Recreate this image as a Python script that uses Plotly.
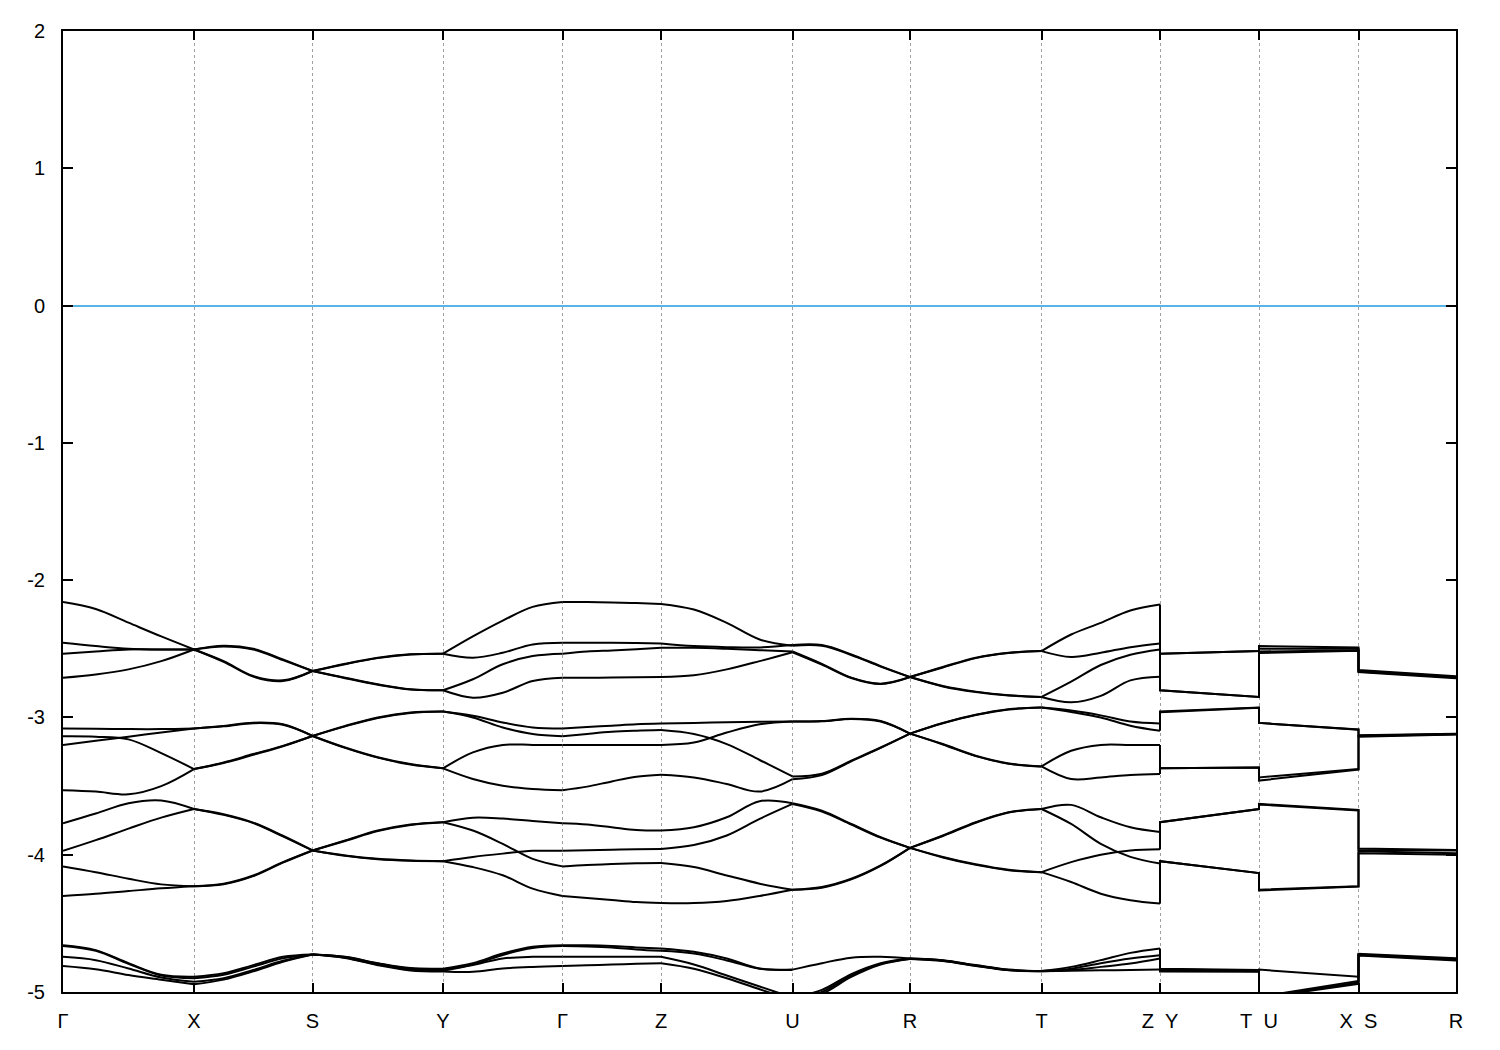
import plotly.graph_objects as go

# High-symmetry points along the k-path
LABELS = ["Γ", "X", "S", "Y", "Γ", "Z", "U", "R", "T",
          "Z\u00a0\u00a0Y", "T\u00a0\u00a0U", "X\u00a0\u00a0S", "R"]
KPTS = [0, 131, 249.5, 380, 499.5, 598, 729.5, 847, 978.5, 1097, 1196, 1295.5, 1393]
FRAC = [0, 0.25, 0.5, 0.75, 1]
Y_TICKS = [-5, -4, -3, -2, -1, 0, 1, 2]
Y_TEXT = ["-5", "-4", "-3", "-2", "-1", "0", "1", "2"]

# Band energies (eV) sampled at FRAC positions of each continuous segment
GX = [
    [-2.16, -2.21, -2.31, -2.41, -2.505],
    [-2.456, -2.48, -2.50, -2.505, -2.505],
    [-2.536, -2.52, -2.505, -2.505, -2.505],
    [-2.711, -2.687, -2.65, -2.59, -2.505],
    [-3.081, -3.083, -3.085, -3.085, -3.08],
    [-3.20, -3.17, -3.14, -3.11, -3.08],
    [-3.137, -3.14, -3.16, -3.26, -3.376],
    [-3.53, -3.54, -3.56, -3.50, -3.376],
    [-3.771, -3.70, -3.625, -3.605, -3.667],
    [-3.972, -3.894, -3.81, -3.73, -3.667],
    [-4.085, -4.127, -4.175, -4.216, -4.23],
    [-4.30, -4.285, -4.265, -4.245, -4.23],
    [-4.659, -4.695, -4.79, -4.875, -4.889],
    [-4.665, -4.70, -4.795, -4.88, -4.90],
    [-4.744, -4.768, -4.829, -4.894, -4.925],
    [-4.81, -4.834, -4.876, -4.91, -4.944],
]
XS = [
    [-2.505, -2.478, -2.50, -2.577, -2.662],
    [-2.505, -2.483, -2.505, -2.583, -2.662],
    [-2.505, -2.59, -2.698, -2.73, -2.662],
    [-2.505, -2.595, -2.703, -2.735, -2.662],
    [-3.08, -3.062, -3.038, -3.05, -3.135],
    [-3.08, -3.065, -3.042, -3.054, -3.135],
    [-3.376, -3.328, -3.267, -3.207, -3.135],
    [-3.376, -3.332, -3.272, -3.21, -3.135],
    [-3.667, -3.705, -3.766, -3.862, -3.969],
    [-3.667, -3.71, -3.77, -3.866, -3.969],
    [-4.23, -4.211, -4.151, -4.054, -3.969],
    [-4.23, -4.215, -4.156, -4.058, -3.969],
    [-4.889, -4.864, -4.804, -4.744, -4.727],
    [-4.90, -4.875, -4.815, -4.755, -4.727],
    [-4.925, -4.90, -4.84, -4.773, -4.727],
    [-4.944, -4.91, -4.85, -4.78, -4.727],
]
SY = [
    [-2.662, -2.609, -2.565, -2.54, -2.536],
    [-2.662, -2.612, -2.568, -2.542, -2.536],
    [-2.662, -2.711, -2.759, -2.795, -2.802],
    [-2.662, -2.714, -2.762, -2.797, -2.802],
    [-3.135, -3.062, -3.0, -2.964, -2.957],
    [-3.135, -3.065, -3.004, -2.967, -2.957],
    [-3.135, -3.219, -3.29, -3.34, -3.371],
    [-3.135, -3.222, -3.293, -3.343, -3.371],
    [-3.969, -3.896, -3.824, -3.78, -3.763],
    [-3.969, -3.90, -3.828, -3.783, -3.763],
    [-3.969, -4.005, -4.03, -4.042, -4.047],
    [-3.969, -4.008, -4.033, -4.044, -4.047],
    [-4.727, -4.744, -4.79, -4.826, -4.83],
    [-4.727, -4.745, -4.792, -4.83, -4.835],
    [-4.727, -4.75, -4.80, -4.838, -4.845],
    [-4.727, -4.752, -4.805, -4.843, -4.85],
]
YG = [
    [-2.536, -2.41, -2.295, -2.195, -2.159],
    [-2.536, -2.565, -2.529, -2.468, -2.456],
    [-2.802, -2.722, -2.613, -2.553, -2.536],
    [-2.802, -2.856, -2.82, -2.735, -2.711],
    [-2.957, -2.988, -3.037, -3.073, -3.081],
    [-2.957, -3.0, -3.073, -3.121, -3.137],
    [-3.371, -3.255, -3.20, -3.20, -3.20],
    [-3.371, -3.448, -3.497, -3.521, -3.53],
    [-3.763, -3.73, -3.737, -3.755, -3.771],
    [-3.763, -3.824, -3.921, -4.03, -4.085],
    [-4.047, -4.016, -3.992, -3.972, -3.972],
    [-4.047, -4.09, -4.15, -4.247, -4.30],
    [-4.83, -4.79, -4.72, -4.671, -4.659],
    [-4.835, -4.80, -4.73, -4.68, -4.665],
    [-4.845, -4.804, -4.756, -4.744, -4.744],
    [-4.85, -4.853, -4.829, -4.817, -4.81],
]
GZ = [
    [-2.159, -2.16, -2.162, -2.167, -2.173],
    [-2.456, -2.456, -2.456, -2.458, -2.461],
    [-2.536, -2.52, -2.512, -2.503, -2.493],
    [-2.711, -2.711, -2.71, -2.708, -2.705],
    [-3.081, -3.07, -3.06, -3.05, -3.045],
    [-3.137, -3.12, -3.105, -3.097, -3.092],
    [-3.20, -3.20, -3.20, -3.20, -3.20],
    [-3.53, -3.504, -3.466, -3.432, -3.417],
    [-3.771, -3.78, -3.80, -3.82, -3.824],
    [-3.972, -3.968, -3.964, -3.96, -3.958],
    [-4.085, -4.075, -4.068, -4.063, -4.061],
    [-4.30, -4.315, -4.33, -4.345, -4.352],
    [-4.659, -4.66, -4.665, -4.675, -4.683],
    [-4.665, -4.668, -4.675, -4.69, -4.70],
    [-4.744, -4.744, -4.744, -4.744, -4.744],
    [-4.81, -4.805, -4.80, -4.795, -4.79],
]
ZU = [
    [-2.173, -2.214, -2.311, -2.432, -2.478],
    [-2.461, -2.48, -2.488, -2.49, -2.473],
    [-2.493, -2.493, -2.50, -2.51, -2.52],
    [-2.705, -2.693, -2.65, -2.59, -2.525],
    [-3.045, -3.04, -3.035, -3.032, -3.03],
    [-3.092, -3.121, -3.194, -3.31, -3.43],
    [-3.20, -3.183, -3.11, -3.05, -3.03],
    [-3.417, -3.437, -3.485, -3.54, -3.45],
    [-3.824, -3.80, -3.727, -3.61, -3.625],
    [-3.958, -3.93, -3.86, -3.739, -3.63],
    [-4.061, -4.09, -4.151, -4.211, -4.255],
    [-4.352, -4.352, -4.337, -4.30, -4.255],
    [-4.683, -4.707, -4.756, -4.829, -4.837],
    [-4.70, -4.72, -4.77, -4.83, -4.84],
    [-4.744, -4.80, -4.88, -4.96, -5.04],
    [-4.79, -4.83, -4.90, -4.98, -5.06],
]
UR = [
    [-2.473, -2.473, -2.541, -2.626, -2.706],
    [-2.478, -2.478, -2.545, -2.63, -2.706],
    [-2.52, -2.61, -2.71, -2.754, -2.706],
    [-2.525, -2.615, -2.713, -2.757, -2.706],
    [-3.03, -3.026, -3.009, -3.026, -3.118],
    [-3.03, -3.028, -3.012, -3.03, -3.118],
    [-3.43, -3.41, -3.315, -3.219, -3.118],
    [-3.45, -3.42, -3.32, -3.222, -3.118],
    [-3.625, -3.679, -3.776, -3.873, -3.95],
    [-3.63, -3.685, -3.78, -3.876, -3.95],
    [-4.255, -4.235, -4.175, -4.078, -3.95],
    [-4.255, -4.24, -4.18, -4.082, -3.95],
    [-4.837, -4.79, -4.75, -4.744, -4.756],
    [-5.04, -4.985, -4.87, -4.79, -4.756],
    [-5.06, -5.0, -4.88, -4.795, -4.758],
    [-5.08, -5.015, -4.89, -4.80, -4.76],
]
RT = [
    [-2.706, -2.633, -2.565, -2.529, -2.517],
    [-2.706, -2.636, -2.568, -2.531, -2.517],
    [-2.706, -2.771, -2.812, -2.838, -2.851],
    [-2.706, -2.774, -2.815, -2.84, -2.851],
    [-3.118, -3.04, -2.98, -2.94, -2.928],
    [-3.118, -3.043, -2.983, -2.942, -2.928],
    [-3.118, -3.194, -3.279, -3.335, -3.357],
    [-3.118, -3.197, -3.282, -3.337, -3.357],
    [-3.95, -3.86, -3.763, -3.69, -3.667],
    [-3.95, -3.864, -3.767, -3.693, -3.667],
    [-3.95, -4.016, -4.07, -4.11, -4.127],
    [-3.95, -4.02, -4.074, -4.113, -4.127],
    [-4.756, -4.768, -4.804, -4.837, -4.847],
    [-4.756, -4.77, -4.806, -4.839, -4.847],
    [-4.758, -4.772, -4.808, -4.84, -4.848],
    [-4.76, -4.775, -4.81, -4.842, -4.849],
]
TZ = [
    [-2.517, -2.396, -2.311, -2.221, -2.178],
    [-2.517, -2.56, -2.529, -2.488, -2.461],
    [-2.851, -2.74, -2.618, -2.543, -2.505],
    [-2.851, -2.89, -2.843, -2.73, -2.703],
    [-2.928, -2.95, -2.985, -3.03, -3.044],
    [-2.928, -2.96, -3.00, -3.06, -3.097],
    [-3.357, -3.243, -3.20, -3.20, -3.20],
    [-3.357, -3.449, -3.437, -3.42, -3.412],
    [-3.667, -3.637, -3.727, -3.80, -3.834],
    [-3.667, -3.776, -3.921, -4.016, -4.064],
    [-4.127, -4.054, -4.0, -3.969, -3.96],
    [-4.127, -4.199, -4.284, -4.332, -4.356],
    [-4.847, -4.817, -4.768, -4.715, -4.683],
    [-4.847, -4.83, -4.79, -4.756, -4.732],
    [-4.848, -4.84, -4.817, -4.793, -4.756],
    [-4.849, -4.845, -4.842, -4.84, -4.837],
]

# Band energies at the end points of the straight (discontinuous) segments
E_Y = [-2.536, -2.536, -2.802, -2.802, -2.957, -2.962, -3.371, -3.371,
       -3.763, -3.763, -4.047, -4.047, -4.83, -4.835, -4.84, -4.85]
E_T = [-2.517, -2.517, -2.851, -2.851, -2.928, -2.93, -3.364, -3.364,
       -3.667, -3.667, -4.134, -4.134, -4.84, -4.845, -4.848, -4.852]
E_U = [-2.48, -2.50, -2.52, -2.53, -3.04, -3.04, -3.437, -3.46,
       -3.63, -3.635, -4.255, -4.26, -4.837, -5.035, -5.04, -5.045]
E_X = [-2.49, -2.50, -2.51, -2.515, -3.088, -3.09, -3.376, -3.38,
       -3.674, -3.678, -4.23, -4.232, -4.889, -4.92, -4.93, -4.94]
E_S = [-2.655, -2.66, -2.665, -2.67, -3.13, -3.133, -3.136, -3.14,
       -3.955, -3.965, -3.975, -3.99, -4.722, -4.727, -4.73, -4.735]
E_R = [-2.70, -2.705, -2.71, -2.715, -3.118, -3.12, -3.122, -3.125,
       -3.965, -3.97, -3.99, -4.0, -4.755, -4.76, -4.765, -4.77]

SMOOTH_SEGMENTS = [GX, XS, SY, YG, GZ, ZU, UR, RT, TZ]

fig = go.Figure()

xs, ys = [], []
for i, seg in enumerate(SMOOTH_SEGMENTS):
    k0, k1 = KPTS[i], KPTS[i + 1]
    for row in seg:
        xs += [k0 + f * (k1 - k0) for f in FRAC] + [None]
        ys += list(row) + [None]
fig.add_trace(go.Scatter(x=xs, y=ys, mode="lines", hoverinfo="skip",
                         line=dict(color="black", width=2, shape="spline", smoothing=1.0),
                         showlegend=False))

# straight part: Z|Y -> T|U -> X|S -> R, with jumps at the discontinuities
z_end = sorted([row[-1] for row in TZ], reverse=True)
kz, kt, kx, kr = KPTS[9], KPTS[10], KPTS[11], KPTS[12]
xs2, ys2 = [], []
for b in range(len(E_Y)):
    xs2 += [kz, kz, kt, kt, kx, kx, kr, None]
    ys2 += [z_end[b], E_Y[b], E_T[b], E_U[b], E_X[b], E_S[b], E_R[b], None]
fig.add_trace(go.Scatter(x=xs2, y=ys2, mode="lines", hoverinfo="skip",
                         line=dict(color="black", width=2),
                         showlegend=False))

fig.update_layout(
    width=1500, height=1050,
    margin=dict(l=55, r=52, t=20, b=66),
    paper_bgcolor="white", plot_bgcolor="white",
    font=dict(family="Liberation Sans, Arial, sans-serif", size=20, color="black"),
    showlegend=False,
    xaxis=dict(
        range=[KPTS[0], KPTS[-1]],
        tickmode="array", tickvals=KPTS, ticktext=LABELS,
        showgrid=True, gridcolor="#a0a0a0", griddash="dot", gridwidth=1,
        showline=True, linecolor="black", linewidth=2, mirror="ticks",
        ticks="inside", ticklen=9, tickwidth=1.5, tickcolor="black",
        zeroline=False, ticklabelstandoff=10,
    ),
    yaxis=dict(
        range=[-5, 2],
        tickmode="array", tickvals=Y_TICKS, ticktext=Y_TEXT,
        showgrid=False,
        showline=True, linecolor="black", linewidth=2, mirror="ticks",
        ticks="inside", ticklen=10, tickwidth=1.5, tickcolor="black",
        zeroline=True, zerolinecolor="#56B4E9", zerolinewidth=1.5,
        ticklabelstandoff=12,
    ),
)

fig.write_html("out.html")
